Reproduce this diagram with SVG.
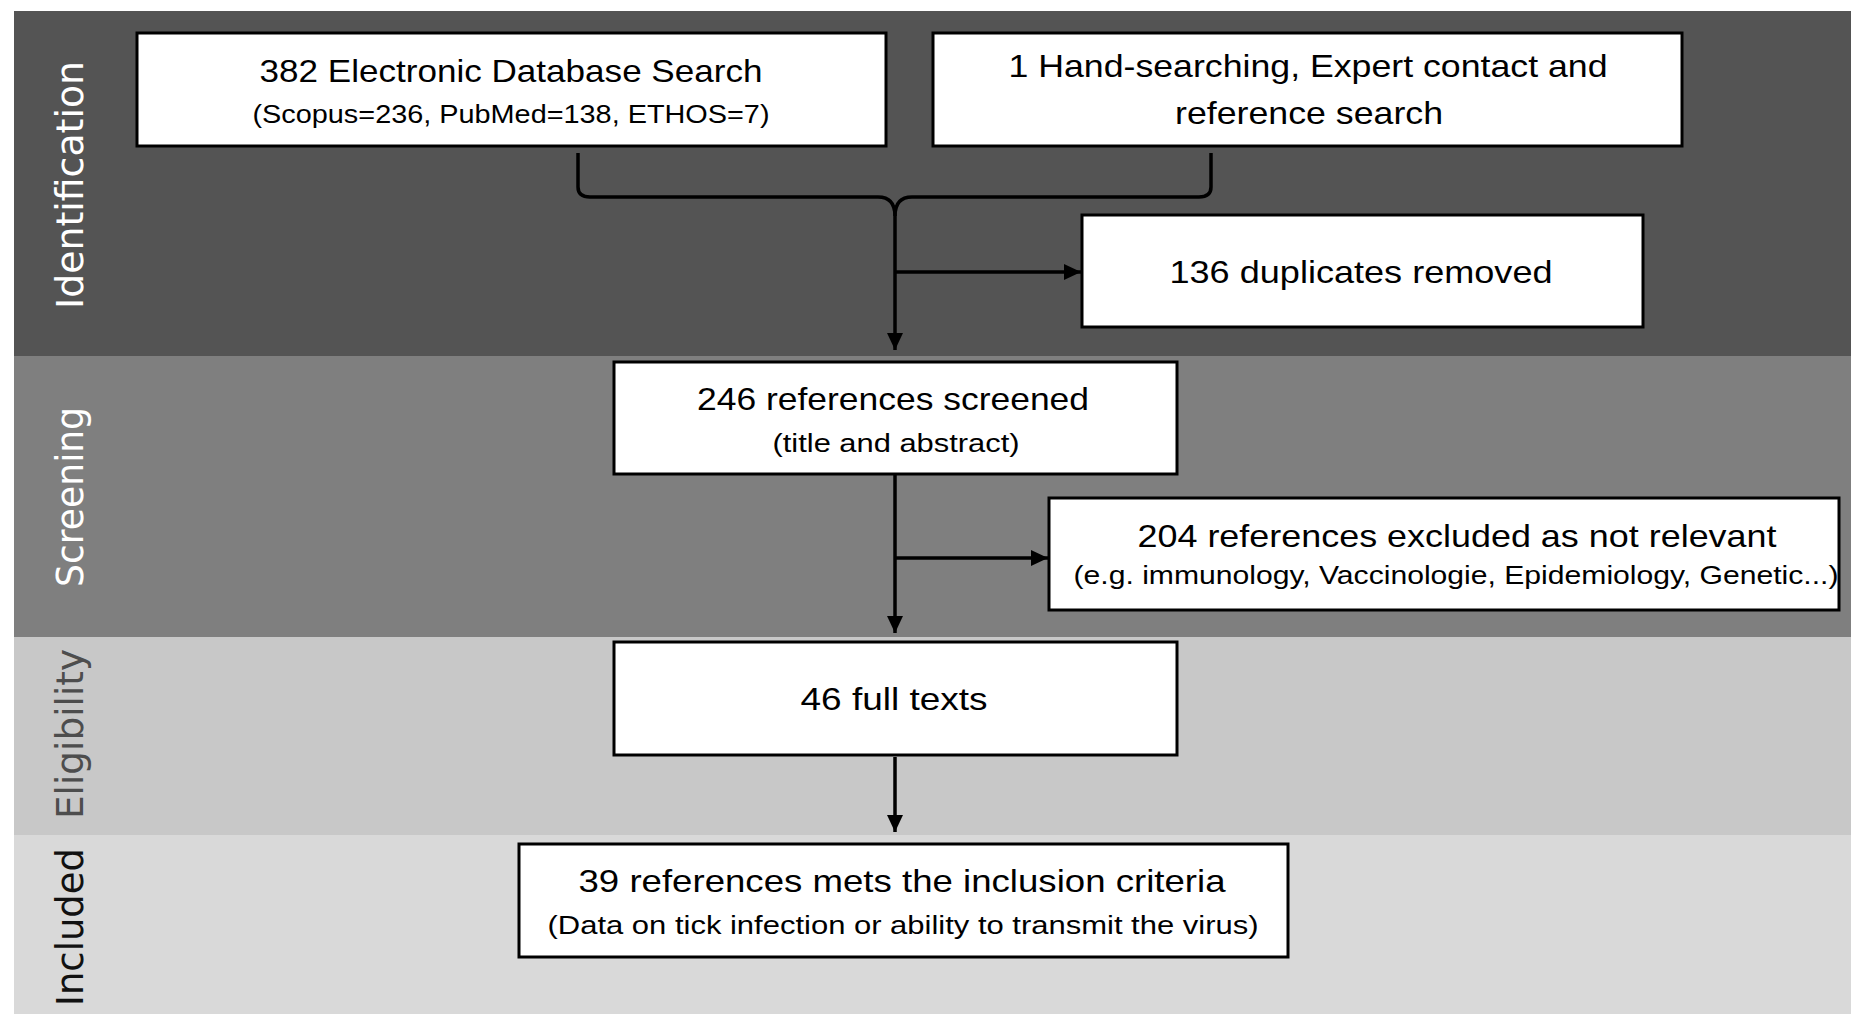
<svg xmlns="http://www.w3.org/2000/svg" width="1851" height="1014" viewBox="0 0 1851 1014">
<style>
.box{fill:#fff;stroke:#000;stroke-width:3}
.t{font-family:"Liberation Sans",Arial,sans-serif;fill:#000;text-anchor:middle}
.m{font-size:32px}
.s{font-size:25px}
.lab{font-family:"DejaVu Sans",Verdana,sans-serif;font-size:37px;text-anchor:middle}
.con{fill:none;stroke:#000;stroke-width:3.5}
</style>
<defs>
<marker id="ah" markerUnits="userSpaceOnUse" markerWidth="18" markerHeight="16" refX="17" refY="8" orient="auto">
<path d="M0,0 L17,8 L0,16 Z" fill="#000"/>
</marker>
</defs>
<rect x="0" y="0" width="1851" height="1014" fill="#fff"/>
<g id="bands">
<rect x="14" y="11" width="1837" height="345" fill="#545454"/>
<rect x="14" y="356" width="1837" height="281" fill="#7f7f7f"/>
<rect x="14" y="637" width="1837" height="198" fill="#c8c8c8"/>
<rect x="14" y="835" width="1837" height="179" fill="#d9d9d9"/>
</g>
<g id="labels">
<text class="lab" fill="#fff" transform="translate(83,185) rotate(-90)" textLength="248" lengthAdjust="spacingAndGlyphs">Identification</text>
<text class="lab" fill="#fff" transform="translate(83,497) rotate(-90)" textLength="180" lengthAdjust="spacingAndGlyphs">Screening</text>
<text class="lab" fill="#4d4d4d" transform="translate(83,734) rotate(-90)" textLength="170" lengthAdjust="spacingAndGlyphs">Eligibility</text>
<text class="lab" fill="#111" transform="translate(83,927) rotate(-90)" textLength="158" lengthAdjust="spacingAndGlyphs">Included</text>
</g>
<g id="connectors">
<path class="con" d="M578,153 V187 Q578,197 590,197 H878 Q895,197 895,216"/>
<path class="con" d="M1211,153 V187 Q1211,197 1199,197 H912 Q895,197 895,216"/>
<path class="con" d="M895,216 V350" marker-end="url(#ah)"/>
<path class="con" d="M895,272 H1081" marker-end="url(#ah)"/>
<path class="con" d="M895,474 V633" marker-end="url(#ah)"/>
<path class="con" d="M895,558 H1048" marker-end="url(#ah)"/>
<path class="con" d="M895,757 V832" marker-end="url(#ah)"/>
</g>
<g id="n1">
<rect class="box" x="137" y="33" width="749" height="113"/>
<text class="t m" x="511" y="82" textLength="503" lengthAdjust="spacingAndGlyphs">382 Electronic Database Search</text>
<text class="t s" x="511" y="123" textLength="517" lengthAdjust="spacingAndGlyphs">(Scopus=236, PubMed=138, ETHOS=7)</text>
</g>
<g id="n2">
<rect class="box" x="933" y="33" width="749" height="113"/>
<text class="t m" x="1308" y="77" textLength="599" lengthAdjust="spacingAndGlyphs">1 Hand-searching, Expert contact and</text>
<text class="t m" x="1309" y="124" textLength="268" lengthAdjust="spacingAndGlyphs">reference search</text>
</g>
<g id="n3">
<rect class="box" x="1082" y="215" width="561" height="112"/>
<text class="t m" x="1361" y="283" textLength="383" lengthAdjust="spacingAndGlyphs">136 duplicates removed</text>
</g>
<g id="n4">
<rect class="box" x="614" y="362" width="563" height="112"/>
<text class="t m" x="893" y="410" textLength="392" lengthAdjust="spacingAndGlyphs">246 references screened</text>
<text class="t s" x="896" y="452" textLength="247" lengthAdjust="spacingAndGlyphs">(title and abstract)</text>
</g>
<g id="n5">
<rect class="box" x="1049" y="498" width="790" height="112"/>
<text class="t m" x="1457" y="547" textLength="639" lengthAdjust="spacingAndGlyphs">204 references excluded as not relevant</text>
<text class="t s" x="1456" y="584" textLength="765" lengthAdjust="spacingAndGlyphs">(e.g. immunology, Vaccinologie, Epidemiology, Genetic...)</text>
</g>
<g id="n6">
<rect class="box" x="614" y="642" width="563" height="113"/>
<text class="t m" x="894" y="710" textLength="187" lengthAdjust="spacingAndGlyphs">46 full texts</text>
</g>
<g id="n7">
<rect class="box" x="519" y="844" width="769" height="113"/>
<text class="t m" x="902" y="892" textLength="647" lengthAdjust="spacingAndGlyphs">39 references mets the inclusion criteria</text>
<text class="t s" x="903" y="934" textLength="711" lengthAdjust="spacingAndGlyphs">(Data on tick infection or ability to transmit the virus)</text>
</g>
</svg>
